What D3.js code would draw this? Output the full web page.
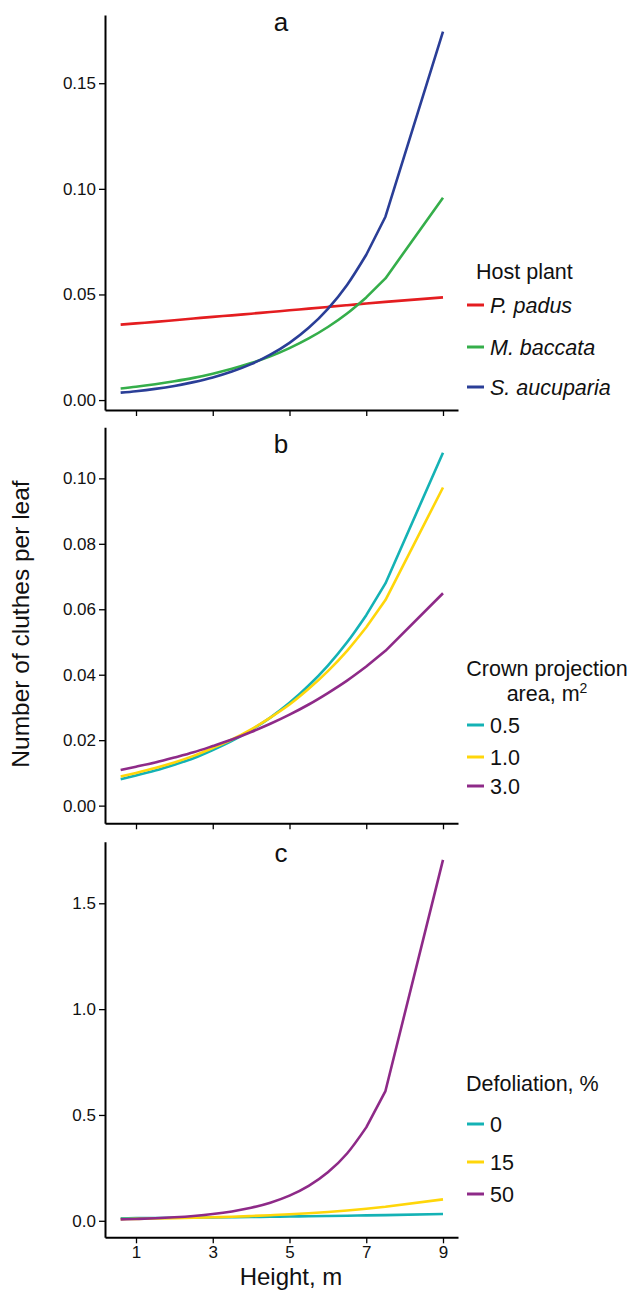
<!DOCTYPE html>
<html>
<head>
<meta charset="utf-8">
<script src="https://cdn.jsdelivr.net/npm/d3@7"></script>
<style>
  html, body { margin: 0; padding: 0; background: #fff; }
  svg { display: block; }
  text { font-family: Arial, "Liberation Sans", Helvetica, sans-serif; fill: #111; }
</style>
</head>
<body>
<svg id="chart" width="633" height="1292"></svg>
<script>
// ---------- data ----------
const heights = [0.6, 1, 1.5, 2, 2.5, 3, 3.5, 4, 4.5, 5, 5.5, 6, 6.5, 7, 7.5, 9];

// Panel a: host plant
const hostNames = ["P. padus", "M. baccata", "S. aucuparia"];
const hostPadus    = [0.0357, 0.0363, 0.0370, 0.0378, 0.0386, 0.0394, 0.0401, 0.0409, 0.0417, 0.0425, 0.0433, 0.0441, 0.0449, 0.0457, 0.0465, 0.0486];
const hostBaccata  = [0.0055, 0.0063, 0.0075, 0.0089, 0.0105, 0.0125, 0.0148, 0.0175, 0.0207, 0.0246, 0.0292, 0.0346, 0.0410, 0.0486, 0.0576, 0.0958];
const hostAucuparia= [0.0035, 0.0042, 0.0053, 0.0067, 0.0085, 0.0107, 0.0135, 0.0170, 0.0215, 0.0271, 0.0342, 0.0432, 0.0545, 0.0688, 0.0868, 0.1744];

// Panel b: crown projection area
const crownNames = ["0.5", "1.0", "3.0"];
const crown05 = [0.0081, 0.0092, 0.0107, 0.0125, 0.0145, 0.0170, 0.0198, 0.0231, 0.0269, 0.0314, 0.0367, 0.0428, 0.0499, 0.0582, 0.0679, 0.1078];
const crown10 = [0.0089, 0.0100, 0.0115, 0.0132, 0.0152, 0.0176, 0.0202, 0.0233, 0.0269, 0.0309, 0.0357, 0.0411, 0.0473, 0.0545, 0.0628, 0.0972];
const crown30 = [0.0109, 0.0119, 0.0132, 0.0147, 0.0163, 0.0182, 0.0202, 0.0225, 0.0250, 0.0278, 0.0309, 0.0344, 0.0382, 0.0425, 0.0473, 0.0649];

// Panel c: defoliation
const defolNames = ["0", "15", "50"];
const defol0  = [0.0120, 0.0126, 0.0133, 0.0141, 0.0150, 0.0159, 0.0168, 0.0179, 0.0189, 0.0201, 0.0213, 0.0226, 0.0239, 0.0254, 0.0269, 0.0321];
const defol15 = [0.0080, 0.0090, 0.0105, 0.0123, 0.0143, 0.0167, 0.0194, 0.0226, 0.0264, 0.0307, 0.0358, 0.0418, 0.0487, 0.0567, 0.0660, 0.1010];
const defol50 = [0.0066, 0.0086, 0.0119, 0.0166, 0.0230, 0.0319, 0.0443, 0.0616, 0.0855, 0.1187, 0.1648, 0.2289, 0.3179, 0.4414, 0.6130, 1.7050];

// ticks
const xTicks = [1, 3, 5, 7, 9];
const yTicksA = [0.00, 0.05, 0.10, 0.15];
const yTicksB = [0.00, 0.02, 0.04, 0.06, 0.08, 0.10];
const yTicksC = [0.0, 0.5, 1.0, 1.5];

// colours
const colHost  = ["#e41d20", "#35ae4a", "#2a3e97"];
const colThree = ["#14b2b5", "#ffd60a", "#8e2a88"];

// ---------- layout ----------
const svg = d3.select("#chart");
const x = d3.scaleLinear().domain([0.192, 9.391]).range([105, 458]);
const smoothEnd = 13; // index of height 7: smooth part ends here, straight segments after

const panels = [
  { letter: "a", domain: [-0.0047, 0.1823], range: [410, 15], ticks: yTicksA, fmt: d3.format(".2f"),
    series: [hostPadus, hostBaccata, hostAucuparia], names: hostNames, colors: colHost, italic: true,
    letterY: 31, legendTitle: ["Host plant"], legendTitleY: 279, legendTitleAnchor: "start", legendTitleX: 476,
    legendY: [305, 347, 387], showXLabels: false },
  { letter: "b", domain: [-0.0054, 0.1156], range: [823.3, 427.3], ticks: yTicksB, fmt: d3.format(".2f"),
    series: [crown05, crown10, crown30], names: crownNames, colors: colThree, italic: false,
    letterY: 453, legendTitle: ["Crown projection", "area, m"], legendTitleY: 676, legendTitleAnchor: "middle", legendTitleX: 547,
    legendY: [725, 757, 786], showXLabels: false },
  { letter: "c", domain: [-0.078, 1.791], range: [1237.3, 841.7], ticks: yTicksC, fmt: d3.format(".1f"),
    series: [defol0, defol15, defol50], names: defolNames, colors: colThree, italic: false,
    letterY: 862, legendTitle: ["Defoliation, %"], legendTitleY: 1091, legendTitleAnchor: "start", legendTitleX: 466,
    legendY: [1124, 1162, 1194], showXLabels: true }
];

panels.forEach(p => {
  const y = d3.scaleLinear().domain(p.domain).range(p.range);
  const g = svg.append("g");

  // y axis
  const yAxis = d3.axisLeft(y).tickValues(p.ticks).tickFormat(p.fmt).tickSize(6).tickPadding(3).tickSizeOuter(0);
  const ya = g.append("g").attr("transform", "translate(105,0)").call(yAxis);
  ya.select(".domain").attr("stroke", "#000").attr("stroke-width", 2);
  ya.selectAll(".tick line").attr("stroke", "#000").attr("stroke-width", 1.3);
  ya.selectAll(".tick text").attr("font-size", 17).attr("fill", "#111")
    .style("font-family", "Arial, 'Liberation Sans', sans-serif");

  // x axis
  const xAxis = d3.axisBottom(x).tickValues(xTicks).tickSize(6).tickPadding(3).tickSizeOuter(0)
    .tickFormat(p.showXLabels ? d3.format("d") : () => "");
  const xa = g.append("g").attr("transform", `translate(0,${p.range[0]})`).call(xAxis);
  xa.select(".domain").attr("stroke", "#000").attr("stroke-width", 2);
  xa.selectAll(".tick line").attr("stroke", "#000").attr("stroke-width", 1.3);
  xa.selectAll(".tick text").attr("font-size", 17).attr("fill", "#111")
    .style("font-family", "Arial, 'Liberation Sans', sans-serif");

  // lines: smooth through the densely spaced heights, straight segments after
  const smooth = d3.line().curve(d3.curveMonotoneX).x(d => x(d[0])).y(d => y(d[1]));
  const straight = d3.line().x(d => x(d[0])).y(d => y(d[1]));
  p.series.forEach((s, i) => {
    const pts = s.map((v, k) => [heights[k], v]);
    const d1 = smooth(pts.slice(0, smoothEnd + 1));
    const d2 = straight(pts.slice(smoothEnd)).replace(/^M[^L]*/, "");
    g.append("path")
      .attr("d", d1 + d2)
      .attr("fill", "none")
      .attr("stroke", p.colors[i])
      .attr("stroke-width", 2.6)
      .attr("stroke-linejoin", "round");
  });

  // panel letter
  g.append("text").attr("x", 281).attr("y", p.letterY).attr("text-anchor", "middle")
    .attr("font-size", 26).text(p.letter);

  // legend title
  p.legendTitle.forEach((t, k) => {
    const tt = g.append("text").attr("x", p.legendTitleX).attr("y", p.legendTitleY + k * 25)
      .attr("text-anchor", p.legendTitleAnchor).attr("font-size", 21.5).text(t);
    if (p.letter === "b" && k === 1) {
      tt.append("tspan").attr("font-size", 14).attr("dy", -8).text("2");
    }
  });

  // legend items
  p.names.forEach((n, i) => {
    g.append("line").attr("x1", 467).attr("x2", 484).attr("y1", p.legendY[i]).attr("y2", p.legendY[i])
      .attr("stroke", p.colors[i]).attr("stroke-width", 3);
    g.append("text").attr("x", 490).attr("y", p.legendY[i]).attr("dy", "0.36em")
      .attr("font-size", 21.5).attr("font-style", p.italic ? "italic" : "normal").text(n);
  });
});

// axis titles
svg.append("text").attr("x", 291).attr("y", 1285).attr("text-anchor", "middle")
  .attr("font-size", 24).text("Height, m");
svg.append("text").attr("transform", "translate(29,624) rotate(-90)").attr("text-anchor", "middle")
  .attr("font-size", 24.5).text("Number of cluthes per leaf");
</script>
</body>
</html>
